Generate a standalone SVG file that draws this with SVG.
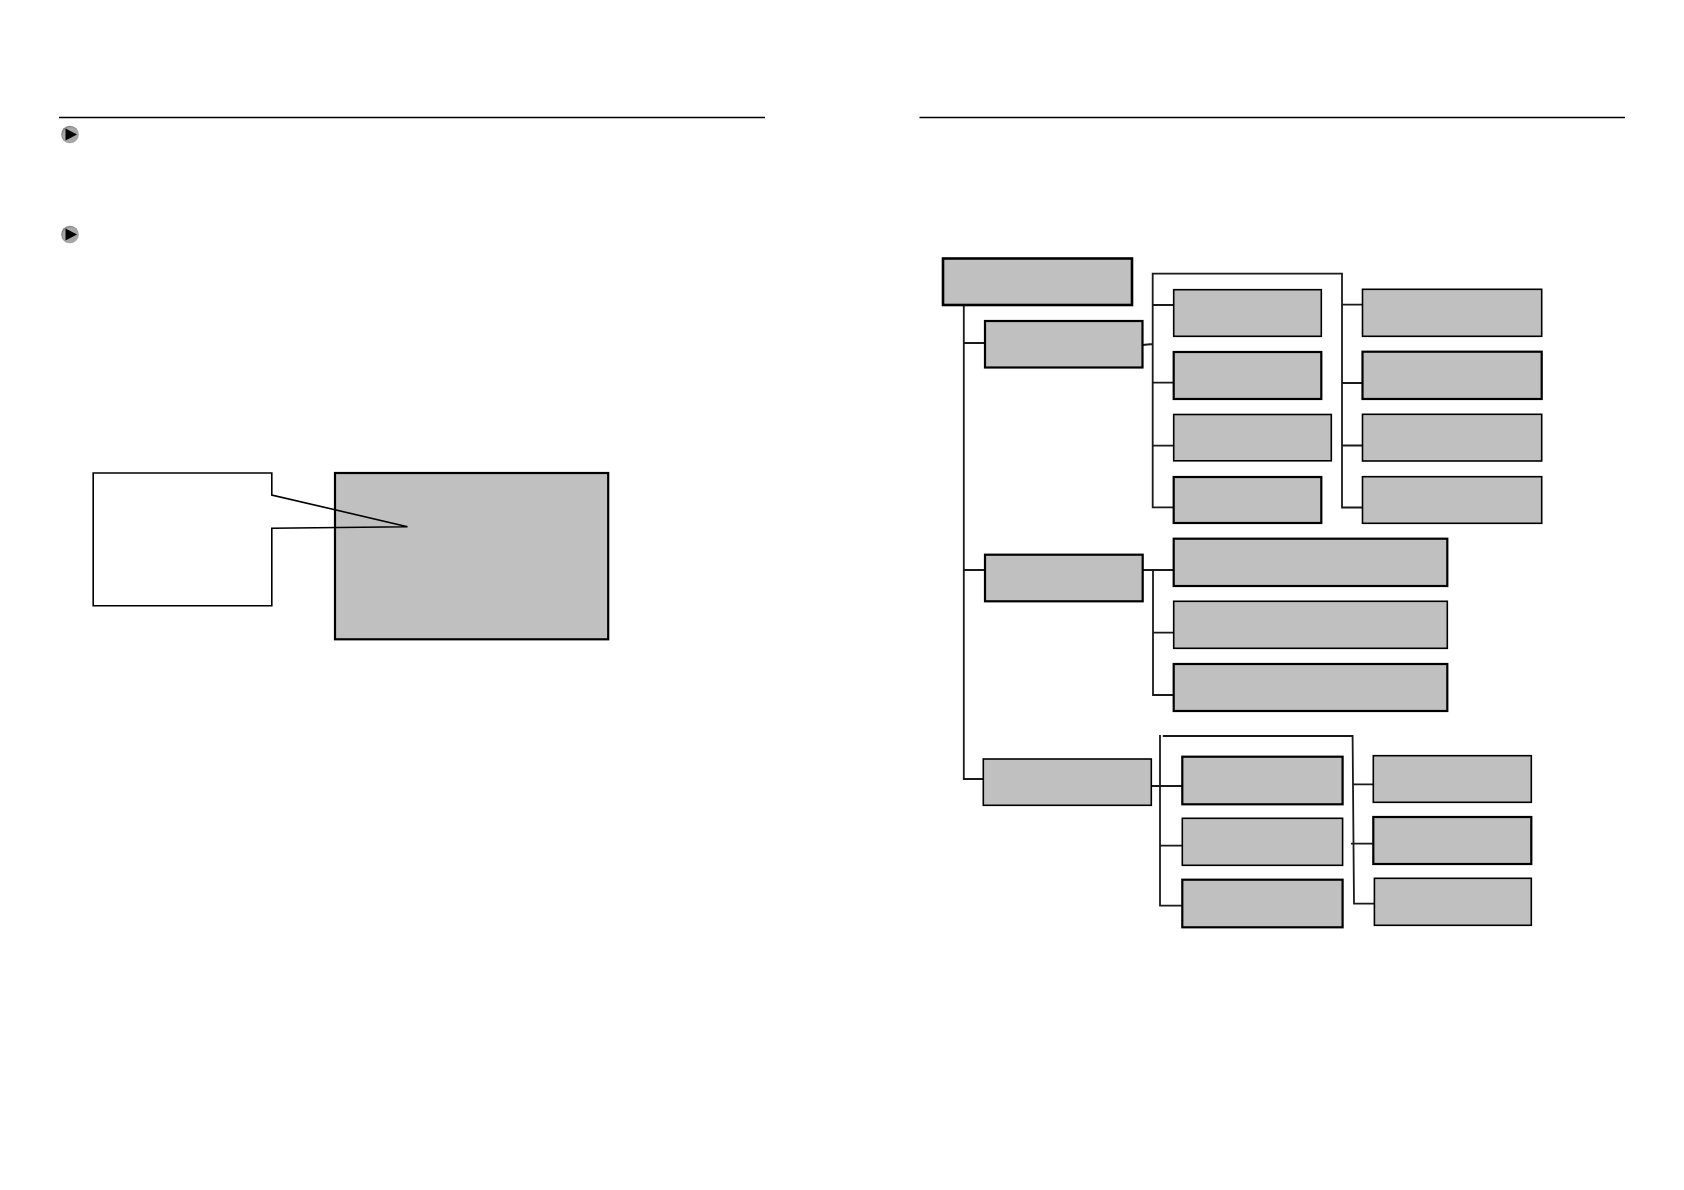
<svg xmlns="http://www.w3.org/2000/svg" width="1684" height="1190" viewBox="0 0 1684 1190">
<style>
.n{fill:#c0c0c0;stroke:#000;stroke-width:1.6}
.h{stroke-width:2.2}
.t{stroke-width:2.6}
.c{fill:none;stroke:#1a1a1a;stroke-width:1.8}
.r{fill:none;stroke:#000;stroke-width:1.3}
</style>
<defs>
<radialGradient id="b" cx="0.55" cy="0.55" r="0.6"><stop offset="0" stop-color="#a0a0a0"/><stop offset="0.7" stop-color="#a8a8a8"/><stop offset="1" stop-color="#6a6a6a"/></radialGradient>
<g id="bullet"><circle r="8.8" fill="url(#b)"/><path d="M-4.5,-6L7,0L-4.5,6Z" fill="#000"/></g>
</defs>
<rect width="1684" height="1190" fill="#fff"/>
<g id="rules"><path class="r" d="M59,117.5H765M919.5,117.5H1625"/></g>
<use href="#bullet" x="70" y="134.5"/>
<use href="#bullet" x="70" y="234.5"/>
<g id="screen"><rect class="n h" x="335" y="473" width="273.2" height="166.3"/></g>
<g id="callout"><path d="M93.2,473H271.8V495L407.5,526.7L271.8,528.3V605.7H93.2Z" fill="none" stroke="#000" stroke-width="1.6"/></g>
<g id="connectors">
<path class="c" d="M963.8,305V779H984.4M963.8,343H985M963.8,570H985"/>
<path class="c" d="M1142.5,345L1152.7,344M1173.7,305H1152.7V273.7H1342V507.5H1362.5M1152.7,305V507.3H1173.7M1152.7,382.7H1173.7M1152.7,445.7H1173.7M1342,304.7H1362.5M1342,383H1362.5M1342,445.5H1362.5"/>
<path class="c" d="M1142.7,570H1173.7M1153,570V695H1173.7M1153,632.7H1173.7"/>
<path class="c" d="M1160,735V905.7H1182.3M1160,845.7H1182.3M1149.8,786H1182.3M1162.8,736H1352.6L1354,903.7H1374.4M1352.6,784.3H1373.3M1351,843.7H1373.3"/>
</g>
<g id="root"><rect class="n t" x="943" y="258.5" width="189" height="46.5"/></g>
<g id="a"><rect class="n h" x="985" y="321" width="157.5" height="46.5"/></g>
<g id="a1"><rect class="n" x="1173.7" y="289.7" width="147.6" height="46.6"/></g>
<g id="a2"><rect class="n h" x="1173.7" y="352" width="147.6" height="47"/></g>
<g id="a3"><rect class="n" x="1173.7" y="414.5" width="157.6" height="46.3"/></g>
<g id="a4"><rect class="n h" x="1173.7" y="477" width="147.6" height="46"/></g>
<g id="a5"><rect class="n" x="1362.5" y="289.3" width="179.2" height="47"/></g>
<g id="a6"><rect class="n h" x="1362.5" y="351.7" width="179.2" height="47.3"/></g>
<g id="a7"><rect class="n" x="1362.5" y="414.3" width="179.2" height="46.7"/></g>
<g id="a8"><rect class="n" x="1362.5" y="476.7" width="179.2" height="46.6"/></g>
<g id="b0"><rect class="n h" x="985" y="554.7" width="157.7" height="46.6"/></g>
<g id="b1"><rect class="n h" x="1173.7" y="538.7" width="273.6" height="47.3"/></g>
<g id="b2"><rect class="n" x="1173.7" y="601.3" width="273.6" height="47"/></g>
<g id="b3"><rect class="n h" x="1173.7" y="664" width="273.6" height="47"/></g>
<g id="c0"><rect class="n" x="983.3" y="759" width="168" height="46.3"/></g>
<g id="c1"><rect class="n h" x="1182.3" y="756.7" width="160.3" height="47.6"/></g>
<g id="c2"><rect class="n" x="1182.3" y="818.3" width="160.3" height="47"/></g>
<g id="c3"><rect class="n h" x="1182.3" y="879.7" width="160.3" height="47.6"/></g>
<g id="c4"><rect class="n" x="1373.3" y="755.7" width="158" height="46.6"/></g>
<g id="c5"><rect class="n h" x="1373.3" y="817" width="158" height="47"/></g>
<g id="c6"><rect class="n" x="1374.4" y="878.3" width="156.9" height="47"/></g>
</svg>
